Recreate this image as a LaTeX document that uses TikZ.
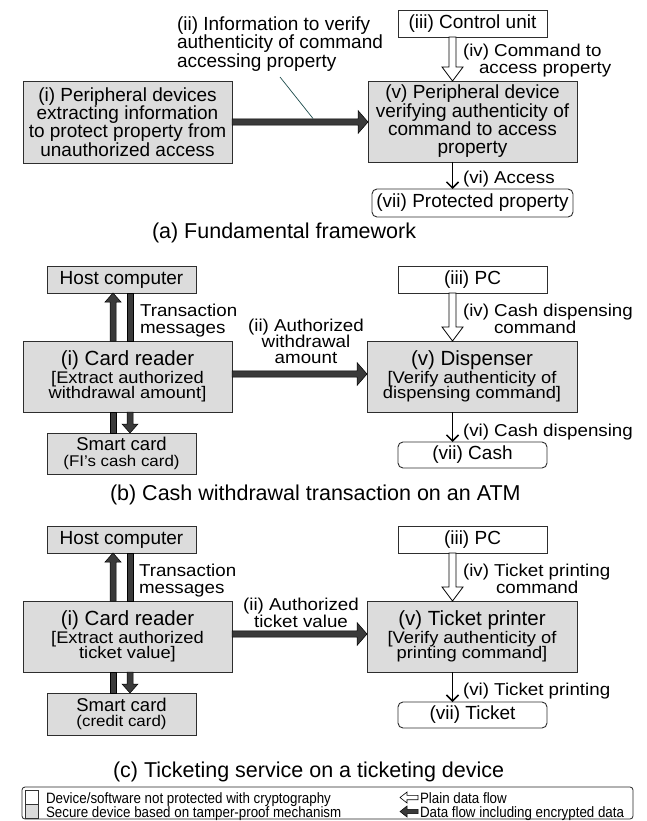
\documentclass[tikz,border=0pt]{standalone}
\usepackage{fontspec}
\setmainfont{Liberation Sans}
\newfontfamily\wideface[FakeStretch=1.09]{Liberation Sans}
\newfontfamily\narrowface[FakeStretch=0.89]{Liberation Sans}
\usetikzlibrary{arrows.meta,calc}
\definecolor{boxgray}{HTML}{DCDCDC}
\definecolor{edgecol}{HTML}{2E2E2E}
\definecolor{fatcol}{HTML}{3A3A3A}
\definecolor{leadcol}{HTML}{1E4D4D}
\newcommand{\setfs}[2]{\fontsize{#1}{#2}\selectfont\lineskiplimit=-50pt\relax}
% #1 start, #2 tip, #3 half shaft, #4 head length, #5 head half width, #6 style
\newcommand{\FatArrow}[6]{%
  \coordinate (fas) at (#1);
  \coordinate (fat) at (#2);
  \coordinate (fah) at ($(fat)!#4!(fas)$);
  \filldraw[#6] ($(fas)!#3!90:(fat)$) -- ($(fah)!#3!-90:(fas)$) -- ($(fah)!#5!-90:(fas)$) -- (fat) -- ($(fah)!#5!90:(fas)$) -- ($(fah)!#3!90:(fas)$) -- ($(fas)!#3!-90:(fat)$) -- cycle;}
% #1 start, #2 end, #3 half width, #4 style
\newcommand{\FatBar}[4]{%
  \coordinate (fbs) at (#1);
  \coordinate (fbe) at (#2);
  \filldraw[#4] ($(fbs)!#3!90:(fbe)$) -- ($(fbe)!#3!-90:(fbs)$) -- ($(fbe)!#3!90:(fbs)$) -- ($(fbs)!#3!-90:(fbe)$) -- cycle;}
\begin{document}
\begin{tikzpicture}[x=1pt,y=-1pt,
  every node/.style={inner sep=0pt, outer sep=0pt},
  secbox/.style={draw=edgecol, fill=boxgray, line width=0.9pt, align=center, font=\setfs{19}{18.3}},
  plainbox/.style={draw=edgecol, fill=white, line width=0.9pt, align=center, font=\setfs{19}{18.3}},
  propbox/.style={draw=edgecol, fill=white, line width=0.9pt, rounded corners=5pt, align=center, font=\setfs{19}{18.3}},
  devbox/.style={draw=edgecol, fill=boxgray, line width=0.9pt, align=center, font={\wideface\setfs{16.8}{15.8}}},
  cardbox/.style={draw=edgecol, fill=boxgray, line width=0.9pt, align=center, font=\setfs{18.5}{15.5}},
  lbl/.style={font={\wideface\setfs{17.2}{16.2}}},
  captxt/.style={font=\setfs{21.5}{24}},
  legtxt/.style={font={\narrowface\setfs{15}{16}}},
  fatsty/.style={draw=black, fill=fatcol, line width=0.5pt},
  hollowsty/.style={draw=black, fill=white, line width=0.8pt},
  thinarrow/.style={line width=1.5pt, -{Straight Barb[length=6pt,width=12pt,line width=1.5pt]}}
]
\fill[white] (0,0) rectangle (647,821);
\useasboundingbox (0,0) rectangle (647,821);

% ---------------- (a) ----------------
\node[secbox, minimum width=209pt, minimum height=82pt] (ai) at (127.5,122)
  {(i) Peripheral devices\\extracting information\\to protect property from\\unauthorized access};
\node[secbox, minimum width=209pt, minimum height=81pt] (av) at (472.5,121.5)
  {(v) Peripheral device\\verifying authenticity of\\command to access\\property};
\node[plainbox, minimum width=149pt, minimum height=27pt] (aiii) at (472.5,23.5) {(iii) Control unit};
\node[propbox, minimum width=201pt, minimum height=28pt] (avii) at (472.5,203) {(vii) Protected property};

\node[font=\setfs{19}{18.2}, align=left, anchor=north west] (aii) at (177,17)
  {(ii) Information to verify\\authenticity of command\\accessing property};
\node[lbl, align=left, anchor=north west] (aiv) at (463,44.4)
  {(iv) Command to\\\hspace*{16pt}access property};
\node[lbl, anchor=north west] (avi) at (463,171.4) {(vi) Access};
\node[captxt, anchor=base west] (acap) at (152,238) {(a) Fundamental framework};

\FatArrow{ai.east |- 0,122}{av.west |- 0,122}{3.2pt}{10pt}{11.5pt}{fatsty}
\FatArrow{aiii.south -| 452.5,0}{av.north -| 452.5,0}{3.5pt}{14pt}{10.5pt}{hollowsty}
\draw[thinarrow] (av.south -| 452.5,0) -- (avii.north -| 452.5,0);
\coordinate (leadA) at (280,77);
\coordinate (leadB) at (313,118.5);
\draw[leadcol, line width=0.7pt] (leadA) -- (leadB);

% ---------------- (b) ----------------
\node[secbox, minimum width=149pt, minimum height=27pt] (bhost) at (121.5,279.5) {Host computer};
\node[devbox, minimum width=209pt, minimum height=71pt] (bcr) at (127.5,376.5)
  {{\setfs{20.5}{16}\normalfont(i) Card reader}\\[2pt]{[}Extract authorized\\withdrawal amount]};
\node[cardbox, minimum width=149pt, minimum height=41pt] (bsc) at (121.5,453.5)
  {Smart card\\{\wideface\setfs{15.5}{15.5}(FI’s cash card)}};
\node[plainbox, minimum width=149pt, minimum height=27pt] (bpc) at (472.5,279.5) {(iii) PC};
\node[devbox, minimum width=210pt, minimum height=71pt] (bdisp) at (472,376.5)
  {{\setfs{20.5}{16}\normalfont(v) Dispenser}\\[2pt]{[}Verify authenticity of\\dispensing command]};
\node[propbox, minimum width=149pt, minimum height=26pt] (bcash) at (472.5,455) {(vii) Cash};

\node[lbl, align=left, anchor=north west] (btx) at (140,304.4) {Transaction\\messages};
\node[lbl, align=center, anchor=north] (bii) at (306,319)
  {(ii) Authorized\\withdrawal\\amount};
\node[lbl, align=left, anchor=north west] (biv) at (463,304.4)
  {(iv) Cash dispensing\\\hspace*{31pt}command};
\node[lbl, anchor=north west] (bvi) at (463,424.4) {(vi) Cash dispensing};
\node[captxt, anchor=base west] (bcap) at (110,500) {(b) Cash withdrawal transaction on an ATM};

\FatArrow{bcr.east |- 0,374}{bdisp.west |- 0,374}{3.2pt}{10pt}{11.5pt}{fatsty}
\FatArrow{bcr.north -| 113,0}{bhost.south -| 113,0}{3pt}{9pt}{8pt}{fatsty}
\FatBar{bcr.north -| 130,0}{bhost.south -| 130,0}{3pt}{fatsty}
\FatBar{bcr.south -| 113,0}{bsc.north -| 113,0}{3pt}{fatsty}
\FatArrow{bcr.south -| 130,0}{bsc.north -| 130,0}{3pt}{9pt}{8pt}{fatsty}
\FatArrow{bpc.south -| 452.5,0}{bdisp.north -| 452.5,0}{3.5pt}{14pt}{10.5pt}{hollowsty}
\draw[thinarrow] (bdisp.south -| 452.5,0) -- (bcash.north -| 452.5,0);

% ---------------- (c) ----------------
\node[secbox, minimum width=149pt, minimum height=27pt] (chost) at (121.5,539.5) {Host computer};
\node[devbox, minimum width=209pt, minimum height=71pt] (ccr) at (127.5,636.5)
  {{\setfs{20.5}{16}\normalfont(i) Card reader}\\[2pt]{[}Extract authorized\\ticket value]};
\node[cardbox, minimum width=149pt, minimum height=42pt] (csc) at (121.5,714)
  {Smart card\\{\wideface\setfs{15.5}{15.5}(credit card)}};
\node[plainbox, minimum width=149pt, minimum height=27pt] (cpc) at (472.5,539.5) {(iii) PC};
\node[devbox, minimum width=210pt, minimum height=71pt] (cprn) at (472,636.5)
  {{\setfs{20.5}{16}\normalfont(v) Ticket printer}\\[2pt]{[}Verify authenticity of\\printing command]};
\node[propbox, minimum width=149pt, minimum height=26pt] (cticket) at (472.5,715) {(vii) Ticket};

\node[lbl, align=left, anchor=north west] (ctx) at (139,564.4) {Transaction\\messages};
\node[lbl, align=center, anchor=north] (cii) at (301,598.4)
  {(ii) Authorized\\ticket value};
\node[lbl, align=left, anchor=north west] (civ) at (463,564.4)
  {(iv) Ticket printing\\\hspace*{33pt}command};
\node[lbl, anchor=north west] (cvi) at (463,683.4) {(vi) Ticket printing};
\node[captxt, anchor=base west] (ccap) at (113,777) {(c) Ticketing service on a ticketing device};

\FatArrow{ccr.east |- 0,634}{cprn.west |- 0,634}{3.2pt}{10pt}{11.5pt}{fatsty}
\FatArrow{ccr.north -| 113,0}{chost.south -| 113,0}{3pt}{9pt}{8pt}{fatsty}
\FatBar{ccr.north -| 130,0}{chost.south -| 130,0}{3pt}{fatsty}
\FatBar{ccr.south -| 113,0}{csc.north -| 113,0}{3pt}{fatsty}
\FatArrow{ccr.south -| 130,0}{csc.north -| 130,0}{3pt}{9pt}{8pt}{fatsty}
\FatArrow{cpc.south -| 452.5,0}{cprn.north -| 452.5,0}{3.5pt}{14pt}{10.5pt}{hollowsty}
\draw[thinarrow] (cprn.south -| 452.5,0) -- (cticket.north -| 452.5,0);

% ---------------- legend ----------------
\node[draw=black!85, rounded corners=3pt, line width=0.8pt, minimum width=611pt, minimum height=32pt] (leg) at (327.5,803) {};
\node[draw=black!80, fill=white, line width=0.7pt, minimum size=13.5pt] (lsq1) at (32,797.5) {};
\node[draw=black!80, fill=boxgray, line width=0.7pt, minimum size=13.5pt] (lsq2) at (32,811.5) {};
\node[legtxt, anchor=base west] (lt1) at (46,803) {Device/software not protected with cryptography};
\node[legtxt, anchor=base west] (lt2) at (46,817) {Secure device based on tamper-proof mechanism};
\coordinate (lg1s) at (418,797.5);
\coordinate (lg1t) at (400,797.5);
\coordinate (lg2s) at (418,811.5);
\coordinate (lg2t) at (400,811.5);
\FatArrow{lg1s}{lg1t}{2.2pt}{7pt}{5.5pt}{hollowsty, line width=0.6pt}
\FatArrow{lg2s}{lg2t}{2.2pt}{7pt}{5.5pt}{fatsty}
\node[legtxt, anchor=base west] (lt3) at (420,803) {Plain data flow};
\node[legtxt, anchor=base west] (lt4) at (420,817) {Data flow including encrypted data};
\end{tikzpicture}
\end{document}
